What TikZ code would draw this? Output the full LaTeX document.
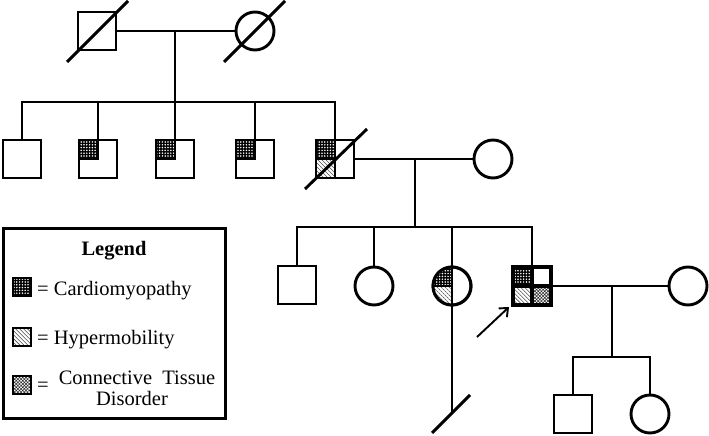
\documentclass[tikz,border=0pt]{standalone}
\usepackage{fontspec}
\setmainfont{Liberation Serif}
\usetikzlibrary{patterns.meta,arrows.meta}
\tikzset{
  lw/.style={line width=2.9pt, line join=miter},
  male/.style={draw, lw, rectangle, minimum size=38pt, inner sep=0pt, outer sep=0pt},
  female/.style={draw, lw, circle, minimum size=38pt, inner sep=0pt, outer sep=0pt},
  cardio/.style={preaction={fill=black}, pattern={Dots[distance=2.8pt, radius=0.85pt]}, pattern color=white},
  hyper/.style={preaction={fill=white}, pattern={Lines[angle=-45, distance=2.8pt, line width=0.55pt]}, pattern color=black!70},
  ctd/.style={preaction={fill=white}, pattern={Hatch[angle=45, distance=2.3pt, line width=0.55pt]}, pattern color=black!85},
  lgtext/.style={font=\fontsize{20.5}{21}\selectfont, inner sep=0pt},
  icon/.style={draw, line width=2.2pt, minimum size=18pt, inner sep=0pt, outer sep=0pt},
  pointer/.style={line width=1.9pt, -{Straight Barb[length=7pt, width=12pt]}},
}
\begin{document}
\begin{tikzpicture}[x=1pt,y=-1pt]
\useasboundingbox (0,0) rectangle (709,436);

% ---------- generation I ----------
\node[male] (F1) at (97,31) {};
\node[female] (M1) at (255,31) {};
\draw[lw] (F1.east) -- (M1.west);
\coordinate (m1) at (175,31);
\coordinate (s1) at (175,102);
\draw[lw] (m1) -- (s1);
\coordinate (F1a) at (67,62); \coordinate (F1b) at (128,1);
\draw[lw] (F1a) -- (F1b);
\coordinate (M1a) at (224,62); \coordinate (M1b) at (285,1);
\draw[lw] (M1a) -- (M1b);

% ---------- generation II ----------
\foreach \n/\x in {1/22,2/98,3/175,4/255,5/335}
  \node[male] (C\n) at (\x,159) {};
\draw[lw] (C1.north) -- (C1.north |- s1) -- (C5.north |- s1) -- (C5.north);
\foreach \n in {2,3,4}
  \draw[lw] (C\n.north) -- (C\n.north |- s1);
\foreach \n in {2,3,4,5}
  \filldraw[cardio, lw] (C\n.north west) rectangle (C\n.center);
\filldraw[hyper, lw] (C5.west) rectangle (C5.south);
\draw[lw] (C5.north) -- (C5.south);
\coordinate (C5a) at (305,189); \coordinate (C5b) at (367,129);
\draw[lw] (C5a) -- (C5b);

\node[female] (W2) at (493,159) {};
\draw[lw] (C5.east) -- (W2.west);
\coordinate (m2) at (415,159);
\coordinate (s2) at (415,227);
\draw[lw] (m2) -- (s2);

% ---------- generation III ----------
\node[male] (D1) at (297,285) {};
\node[female] (D2) at (374,286) {};
\node[female] (D3) at (452,286) {};
\node[male, line width=3.4pt] (P) at (532,286) {};
\draw[lw] (D1.north) -- (D1.north |- s2) -- (P.north |- s2) -- (P.north);
\draw[lw] (D2.north) -- (D2.north |- s2);

\begin{scope}
  \clip (D3.center) circle[radius=19pt];
  \fill[cardio] (D3.center) rectangle (D3.north -| D3.west);
  \fill[hyper] (D3.center) rectangle (D3.south -| D3.west);
\end{scope}
\draw[lw] (D3.center) circle[radius=19pt];
\draw[lw] (D3.west) -- (D3.center);
\coordinate (D3end) at (452,414);
\draw[lw] (D3.north |- s2) -- (D3end);
\coordinate (D3a) at (432,433); \coordinate (D3b) at (470,395);
\draw[lw] (D3a) -- (D3b);

\filldraw[cardio, line width=3.4pt] (P.north west) rectangle (P.center);
\filldraw[hyper, line width=3.4pt] (P.west) rectangle (P.south);
\filldraw[ctd, line width=3.4pt] (P.center) rectangle (P.south east);
\draw[line width=3.4pt] (P.north west) rectangle (P.south east);

\coordinate (arrT) at (477,337);
\coordinate (arrH) at (509,307);
\draw[pointer] (arrT) -- (arrH);

\node[female] (W3) at (688,286) {};
\draw[lw] (P.east) -- (W3.west);
\coordinate (m3) at (612,286);
\coordinate (s3) at (612,357);
\draw[lw] (m3) -- (s3);

% ---------- generation IV ----------
\node[male] (G1) at (573,414) {};
\node[female] (G2) at (650,414) {};
\draw[lw] (G1.north) -- (G1.north |- s3) -- (G2.north |- s3) -- (G2.north);

% ---------- legend ----------
\node[draw, line width=3pt, minimum width=222pt, minimum height=190pt, inner sep=0pt, outer sep=0pt] (LG) at (114,323) {};
\node[lgtext, anchor=base] (LT) at (114,255) {\bfseries Legend};
\node[icon, cardio] (I1) at (22,287) {};
\node[lgtext, anchor=base west] (T1) at (37,295) {= Cardiomyopathy};
\node[icon, hyper] (I2) at (22,337) {};
\node[lgtext, anchor=base west] (T2) at (37,344) {= Hypermobility};
\node[icon, ctd] (I3) at (22,385) {};
\node[lgtext, anchor=base west] (T3) at (37,391) {=};
\node[lgtext, anchor=base] (T4) at (137,384) {Connective\hspace{0.5em}Tissue};
\node[lgtext, anchor=base] (T5) at (132,405) {Disorder};
\end{tikzpicture}
\end{document}
